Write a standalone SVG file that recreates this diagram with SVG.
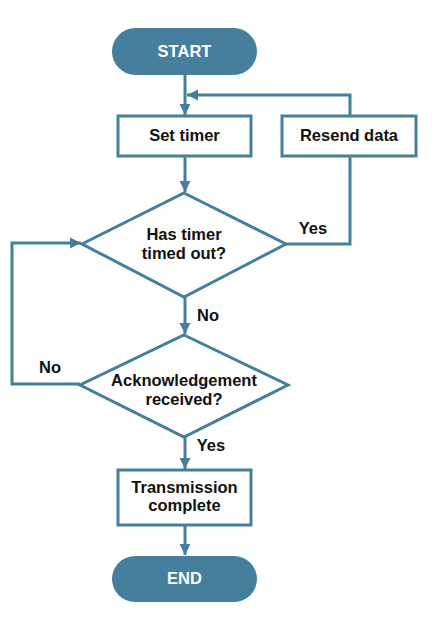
<svg xmlns="http://www.w3.org/2000/svg" width="436" height="624" viewBox="0 0 436 624">
<defs>
<marker id="ah" viewBox="0 0 10 10" refX="10" refY="5" markerWidth="3.8" markerHeight="3.8" orient="auto" markerUnits="strokeWidth">
<path d="M0,0 L10,5 L0,10 Z" fill="#457f9b"/>
</marker>
<style>
.term{fill:#457f9b;stroke:none}
.box{fill:#fff;stroke:#457f9b;stroke-width:3}
.t{font-family:"Liberation Sans",Arial,sans-serif;font-weight:bold;font-size:16.5px;fill:#111;text-anchor:middle}
.tw{font-family:"Liberation Sans",Arial,sans-serif;font-weight:bold;font-size:16.5px;fill:#fff;text-anchor:middle}
.c{fill:none;stroke:#457f9b;stroke-width:3}
</style>
</defs>
<rect width="436" height="624" fill="#fff"/>
<g id="connectors">
<path class="c" d="M185,75 V115" marker-end="url(#ah)"/>
<path class="c" d="M350,116 V95 H187" marker-end="url(#ah)"/>
<path class="c" d="M185,157 V192" marker-end="url(#ah)"/>
<path class="c" d="M286,244 H350 V157"/>
<path class="c" d="M185,297 V334" marker-end="url(#ah)"/>
<path class="c" d="M80,384 H12 V243 H81" marker-end="url(#ah)"/>
<path class="c" d="M185,437 V469" marker-end="url(#ah)"/>
<path class="c" d="M185,526 V555" marker-end="url(#ah)"/>
<text class="t" x="313" y="234">Yes</text>
<text class="t" x="208" y="321">No</text>
<text class="t" x="50" y="373">No</text>
<text class="t" x="211" y="451">Yes</text>
</g>
<g id="start">
<rect class="term" x="112" y="28" width="145" height="47" rx="23.5"/>
<text class="tw" x="184.5" y="57">START</text>
</g>
<g id="set-timer">
<rect class="box" x="118" y="116" width="133" height="40"/>
<text class="t" x="184.5" y="141">Set timer</text>
</g>
<g id="resend-data">
<rect class="box" x="282" y="116" width="134" height="40"/>
<text class="t" x="349" y="141">Resend data</text>
</g>
<g id="timed-out">
<polygon class="box" points="184,193 286,244 184,297 82,244"/>
<text class="t" x="184" y="240">Has timer</text>
<text class="t" x="184" y="259">timed out?</text>
</g>
<g id="ack">
<polygon class="box" points="184,335 288,385 184,437 80,385"/>
<text class="t" x="184" y="386">Acknowledgement</text>
<text class="t" x="184" y="405">received?</text>
</g>
<g id="complete">
<rect class="box" x="118" y="470" width="133" height="55"/>
<text class="t" x="184.5" y="493">Transmission</text>
<text class="t" x="184.5" y="511">complete</text>
</g>
<g id="end">
<rect class="term" x="112" y="556" width="145" height="46" rx="23"/>
<text class="tw" x="184.5" y="584">END</text>
</g>
</svg>
